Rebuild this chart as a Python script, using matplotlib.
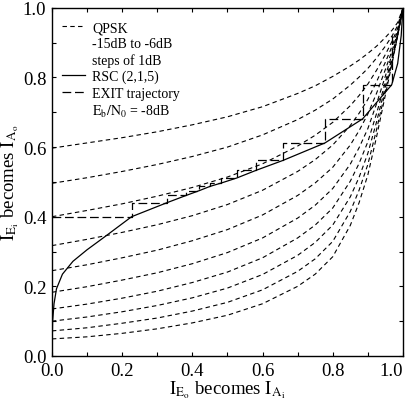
import numpy as np
import matplotlib
matplotlib.use("Agg")
import matplotlib.pyplot as plt
from matplotlib.lines import Line2D
from matplotlib.ticker import MultipleLocator

plt.rcParams['font.family'] = ['Liberation Serif', 'DejaVu Serif']
plt.rcParams['mathtext.fontset'] = 'stix'

# QPSK inner curves, -6dB (top) down to -15dB (bottom), read at these I_A values
qpsk_x = [0.0, 0.1, 0.2, 0.3, 0.4, 0.5, 0.6, 0.7, 0.75, 0.8, 0.85, 0.875,
          0.9, 0.925, 0.95, 0.97, 0.985, 1.0]
qpsk_m6 = [0.597, 0.612, 0.627, 0.644, 0.664, 0.687, 0.716, 0.754, 0.776, 0.803, 0.833, 0.850,
           0.869, 0.890, 0.915, 0.937, 0.958, 1.0]
qpsk_m7 = [0.496, 0.512, 0.530, 0.550, 0.573, 0.600, 0.635, 0.679, 0.706, 0.738, 0.778, 0.801,
           0.826, 0.856, 0.890, 0.921, 0.949, 1.0]
qpsk_m8 = [0.400, 0.418, 0.437, 0.459, 0.484, 0.514, 0.552, 0.603, 0.634, 0.671, 0.719, 0.748,
           0.781, 0.821, 0.866, 0.906, 0.941, 1.0]
qpsk_m9 = [0.317, 0.335, 0.355, 0.377, 0.403, 0.435, 0.476, 0.530, 0.564, 0.606, 0.662, 0.697,
           0.737, 0.788, 0.844, 0.892, 0.934, 1.0]
qpsk_m10 = [0.245, 0.262, 0.282, 0.304, 0.331, 0.363, 0.405, 0.461, 0.497, 0.542, 0.606, 0.647,
            0.695, 0.755, 0.823, 0.880, 0.928, 1.0]
qpsk_m11 = [0.183, 0.199, 0.218, 0.239, 0.265, 0.297, 0.339, 0.396, 0.433, 0.481, 0.551, 0.598,
            0.653, 0.725, 0.804, 0.870, 0.924, 1.0]
qpsk_m12 = [0.135, 0.149, 0.166, 0.186, 0.211, 0.241, 0.282, 0.339, 0.376, 0.425, 0.502, 0.553,
            0.615, 0.697, 0.787, 0.861, 0.922, 1.0]
qpsk_m13 = [0.100, 0.112, 0.127, 0.145, 0.167, 0.195, 0.234, 0.289, 0.326, 0.376, 0.457, 0.513,
            0.582, 0.673, 0.774, 0.855, 0.920, 1.0]
qpsk_m14 = [0.072, 0.081, 0.094, 0.109, 0.129, 0.154, 0.190, 0.243, 0.279, 0.329, 0.415, 0.476,
            0.550, 0.651, 0.761, 0.849, 0.920, 1.0]
qpsk_m15 = [0.049, 0.055, 0.065, 0.078, 0.095, 0.117, 0.150, 0.200, 0.235, 0.285, 0.375, 0.440,
            0.520, 0.630, 0.750, 0.845, 0.920, 1.0]
qpsk_curves = [qpsk_m6, qpsk_m7, qpsk_m8, qpsk_m9, qpsk_m10,
               qpsk_m11, qpsk_m12, qpsk_m13, qpsk_m14, qpsk_m15]

# RSC (2,1,5) outer curve, drawn with I_E on x and I_A on y
rsc_x = [0.0, 0.002, 0.006, 0.013, 0.03, 0.06, 0.10, 0.15, 0.227, 0.327, 0.382, 0.42,
         0.45, 0.483, 0.526, 0.581, 0.659, 0.778, 0.885, 0.968, 0.985, 0.995, 1.0]
rsc_y = [0.0, 0.10, 0.15, 0.193, 0.235, 0.272, 0.305, 0.342, 0.40, 0.44, 0.461, 0.475,
         0.487, 0.497, 0.511, 0.533, 0.562, 0.612, 0.681, 0.779, 0.84, 0.92, 1.0]

# EXIT trajectory at Eb/N0 = -8dB: step positions and levels
traj_x = [0.0, 0.227, 0.327, 0.382, 0.42, 0.45, 0.483, 0.526, 0.581, 0.659, 0.778, 0.885, 0.968]
traj_y = [0.40, 0.44, 0.461, 0.475, 0.487, 0.497, 0.511, 0.533, 0.562, 0.612, 0.681, 0.779, 0.93]

tick_vals = [0.0, 0.2, 0.4, 0.6, 0.8, 1.0]
tick_text = ['0.0', '0.2', '0.4', '0.6', '0.8', '1.0']

fig = plt.figure(figsize=(4.12, 4.02), dpi=100)
ax = fig.add_axes([0.126, 0.112, 0.852, 0.866])

for c in qpsk_curves:
    ax.plot(qpsk_x, c, color='black', lw=0.8, dashes=(4, 3))

ax.plot(rsc_x, rsc_y, color='black', lw=0.9)

# staircase: horizontal to next x, then vertical to next level
sx = [traj_x[0]]
sy = [traj_y[0]]
for i in range(1, len(traj_x)):
    sx += [traj_x[i], traj_x[i]]
    sy += [traj_y[i - 1], traj_y[i]]
ax.plot(sx, sy, color='black', lw=0.9, dashes=(7, 3))

ax.set_xlim(0, 1)
ax.set_ylim(0, 1)
ax.set_yticks(tick_vals)
ax.set_yticklabels(tick_text)
ax.set_xticks(tick_vals)
xlabs = ax.set_xticklabels(tick_text)
# last x tick label sits inside the right edge, as in the original
xlabs[-1].set_horizontalalignment('right')
ax.xaxis.set_minor_locator(MultipleLocator(0.1))
ax.yaxis.set_minor_locator(MultipleLocator(0.1))
ax.tick_params(which='both', direction='in', top=True, right=True, length=3, width=0.8)
ax.tick_params(which='major', labelsize=13.5, pad=4)
for s in ax.spines.values():
    s.set_linewidth(1.0)

ax.set_xlabel(r'$\mathrm{I_{E_o}}$ becomes $\mathrm{I_{A_i}}$', fontsize=13.5, labelpad=0)
ax.set_ylabel(r'$\mathrm{I_{E_i}}$ becomes $\mathrm{I_{A_o}}$', fontsize=13.5, labelpad=1)

blank = Line2D([], [], color='none')
handles = [Line2D([], [], color='black', lw=0.8, dashes=(4, 3)), blank, blank,
           Line2D([], [], color='black', lw=0.9),
           Line2D([], [], color='black', lw=0.9, dashes=(7, 3)), blank]
labels = ['QPSK', '-15dB to -6dB', 'steps of 1dB', 'RSC (2,1,5)', 'EXIT trajectory',
          r'$\mathrm{E_b/N_0}$ = -8dB']
ax.legend(handles, labels, loc='upper left', frameon=False, fontsize=10,
          handlelength=1.65, handletextpad=0.55, labelspacing=0.22,
          borderaxespad=0.3, bbox_to_anchor=(0.0, 0.99))

fig.savefig('out.png', dpi=100)
